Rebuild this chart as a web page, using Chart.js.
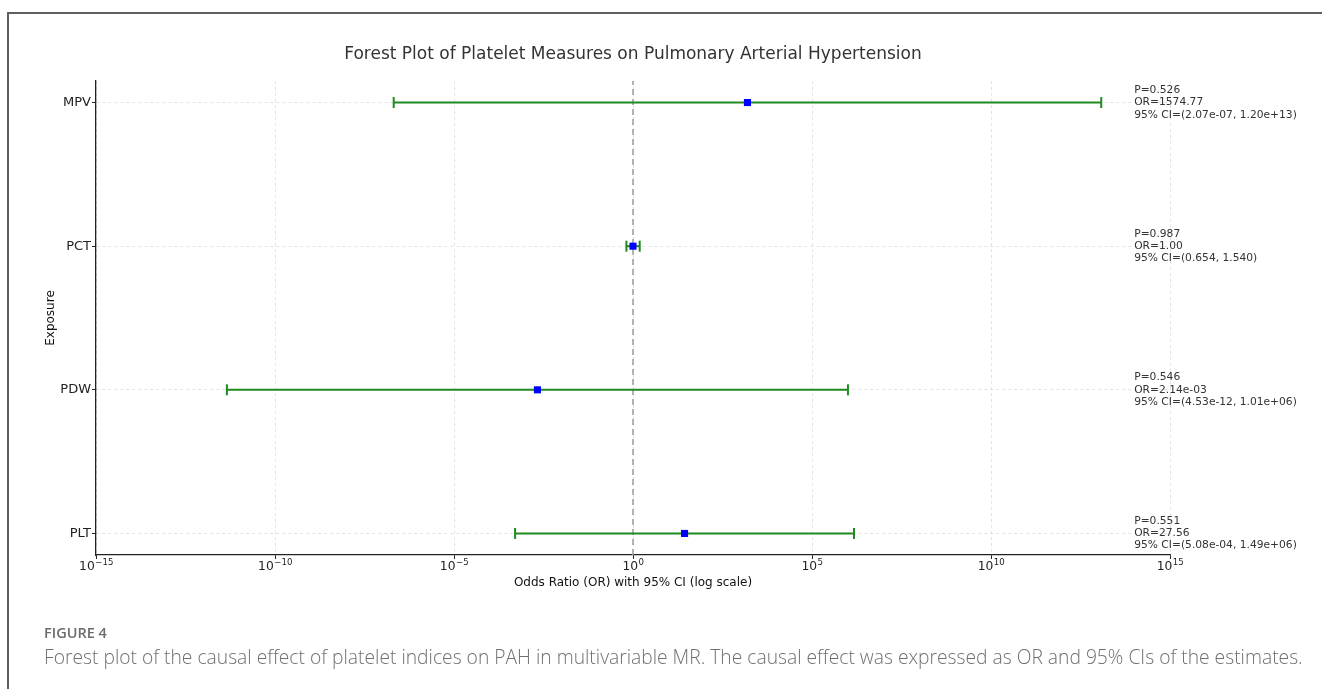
<!DOCTYPE html>
<html>
<head>
<meta charset="utf-8">
<script src="https://cdn.jsdelivr.net/npm/chart.js@4.4.0/dist/chart.umd.min.js"></script>
<style>
  html, body { margin: 0; padding: 0; background: #fff; width: 1322px; height: 689px; overflow: hidden; }
  #wrap { position: absolute; left: 0; top: 0; width: 1322px; height: 600px; }
  #frame { position: absolute; left: 7px; top: 12px; width: 1400px; height: 700px;
           border-top: 2px solid #5f5f5f; border-left: 2px solid #5f5f5f; pointer-events: none; }
  #fig { position: absolute; left: 44px; top: 626px; font-family: "Open Sans", Lato, sans-serif;
         font-size: 14.5px; line-height: 14px; font-weight: 600; color: #6b6b6b; white-space: nowrap; }
  #cap { position: absolute; left: 44px; top: 647px; font-family: "Open Sans", Lato, sans-serif;
         font-size: 19.25px; line-height: 19px; font-weight: 300; color: #707070; white-space: nowrap; }
</style>
</head>
<body>
<div id="wrap"><canvas id="c" width="1322" height="600"></canvas></div>
<div id="frame"></div>
<div id="fig">FIGURE 4</div>
<div id="cap">Forest plot of the causal effect of platelet indices on PAH in multivariable MR. The causal effect was expressed as OR and 95% CIs of the estimates.</div>
<script>
// ---- data (top to bottom) ----
const categories = ['MPV', 'PCT', 'PDW', 'PLT'];
const oddsRatios = [1574.77, 1.00, 2.14e-3, 27.56];
const ciLower = [2.07e-7, 0.654, 4.53e-12, 5.08e-4];
const ciUpper = [1.20e13, 1.540, 1.01e6, 1.49e6];
const pValues = [0.526, 0.987, 0.546, 0.551];
const xTickExponents = [-15, -10, -5, 0, 5, 10, 15];
const chartTitle = 'Forest Plot of Platelet Measures on Pulmonary Arterial Hypertension';

const GREEN = '#1f8a1f';
const n = categories.length;
const yOf = i => n - 1 - i;

function expFmt(v) {
  return v.toExponential(2).replace(/e([+-])(\d)$/, 'e$10$2');
}
function fmtOR(v) { return (v >= 0.01 && v < 1e5) ? v.toFixed(2) : expFmt(v); }
function fmtCI(v) { return (v >= 0.01 && v < 1e3) ? v.toFixed(3) : expFmt(v); }

const datasets = [];
// OR markers (drawn on top)
datasets.push({
  label: 'OR',
  data: oddsRatios.map((v, i) => ({x: v, y: yOf(i)})),
  pointStyle: 'rect',
  pointRadius: 5,
  pointBackgroundColor: '#0000ff',
  pointBorderColor: '#0000ff',
  pointBorderWidth: 0,
  showLine: false
});
// CI lines with caps
categories.forEach((c, i) => {
  datasets.push({
    label: c + ' CI',
    data: [{x: ciLower[i], y: yOf(i)}, {x: ciUpper[i], y: yOf(i)}],
    showLine: true,
    borderColor: GREEN,
    borderWidth: 2,
    pointStyle: 'line',
    rotation: 90,
    pointRadius: 5.5,
    pointBorderColor: GREEN,
    pointBorderWidth: 2,
    pointBackgroundColor: GREEN
  });
});
// reference line at OR = 1
datasets.push({
  label: 'ref',
  data: [{x: 1, y: -0.15}, {x: 1, y: n - 1 + 0.15}],
  showLine: true,
  borderColor: '#9a9a9a',
  borderWidth: 1.5,
  borderDash: [6, 4],
  pointRadius: 0
});

const textPlugin = {
  id: 'texts',
  afterDraw(chart) {
    const {ctx, chartArea, scales: {x, y}} = chart;
    ctx.save();
    // title
    ctx.font = '17px "DejaVu Sans"';
    ctx.fillStyle = '#333';
    ctx.textAlign = 'center';
    ctx.textBaseline = 'middle';
    ctx.fillText(chartTitle, (chartArea.left + chartArea.right) / 2, 55);

    // x tick labels: 10 with superscript exponent
    ctx.fillStyle = '#222';
    ctx.textAlign = 'left';
    ctx.textBaseline = 'alphabetic';
    x.ticks.forEach(t => {
      const e = Math.round(Math.log10(t.value));
      const base = '10';
      const ex = String(e).replace('-', '\u2212');
      ctx.font = '12.3px "DejaVu Sans"';
      const wb = ctx.measureText(base).width;
      ctx.font = '8.6px "DejaVu Sans"';
      const we = ctx.measureText(ex).width;
      const px = x.getPixelForValue(t.value);
      const x0 = px - (wb + we) / 2;
      const by = chartArea.bottom + 15;
      ctx.font = '12.3px "DejaVu Sans"';
      ctx.fillText(base, x0, by);
      ctx.font = '8.6px "DejaVu Sans"';
      ctx.fillText(ex, x0 + wb + 0.5, by - 5);
    });

    // annotations
    const ax = x.getPixelForValue(1e14);
    ctx.font = '10.7px "DejaVu Sans"';
    ctx.fillStyle = '#333';
    ctx.textAlign = 'left';
    ctx.textBaseline = 'middle';
    categories.forEach((c, i) => {
      const py = y.getPixelForValue(yOf(i));
      const lines = [
        'P=' + pValues[i].toFixed(3),
        'OR=' + fmtOR(oddsRatios[i]),
        '95% CI=(' + fmtCI(ciLower[i]) + ', ' + fmtCI(ciUpper[i]) + ')'
      ];
      lines.forEach((t, k) => ctx.fillText(t, ax, py + (k - 1) * 12.2));
    });
    ctx.restore();
  }
};

new Chart(document.getElementById('c'), {
  type: 'scatter',
  data: { datasets },
  plugins: [textPlugin],
  options: {
    responsive: false,
    animation: false,
    layout: { padding: { left: 0, right: 152, top: 81, bottom: 0 } },
    plugins: {
      legend: { display: false },
      tooltip: { enabled: false },
      title: { display: false }
    },
    scales: {
      x: {
        type: 'logarithmic',
        min: 1e-15,
        max: 1e15,
        afterBuildTicks: s => { s.ticks = xTickExponents.map(e => ({value: Math.pow(10, e)})); },
        afterFit: s => { s.height = 45; },
        ticks: { display: false, autoSkip: false, maxRotation: 0 },
        grid: { color: '#dcdcdc', lineWidth: 0.8, tickLength: 4, tickColor: '#222', tickWidth: 1 },
        border: { display: true, color: '#222', width: 1.3, dash: [3, 3] },
        title: {
          display: true,
          text: 'Odds Ratio (OR) with 95% CI (log scale)',
          color: '#111',
          font: { family: '"DejaVu Sans"', size: 12 },
          padding: { top: 0, bottom: 9.8 }
        }
      },
      y: {
        type: 'linear',
        min: -0.15,
        max: n - 1 + 0.15,
        afterBuildTicks: s => { s.ticks = categories.map((c, i) => ({value: yOf(i)})); },
        afterFit: s => { s.width = 96; },
        ticks: {
          autoSkip: false,
          padding: 1,
          color: '#222',
          font: { family: '"DejaVu Sans"', size: 13 },
          callback: function(v) { return categories[n - 1 - Math.round(v)]; }
        },
        grid: { color: '#dcdcdc', lineWidth: 0.8, tickLength: 4, tickColor: '#222', tickWidth: 1 },
        border: { display: true, color: '#222', width: 1.3, dash: [3, 3] },
        title: {
          display: true,
          text: 'Exposure',
          color: '#111',
          font: { family: '"DejaVu Sans"', size: 12 },
          padding: { top: 43.8, bottom: 0 }
        }
      }
    }
  }
});
</script>
</body>
</html>
